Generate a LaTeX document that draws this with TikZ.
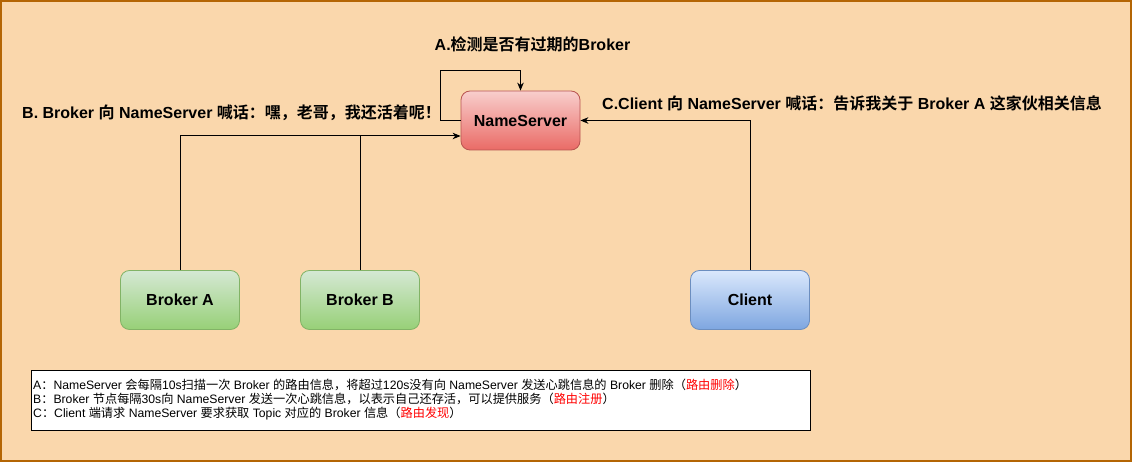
\documentclass[tikz,border=0pt]{standalone}
\usepackage{fontspec}
\setmainfont{Liberation Sans}
\newfontfamily\zhfont{Noto Sans CJK SC}[BoldFont={Noto Sans CJK SC Bold}]
\newcommand{\zh}[1]{{\zhfont #1}}
\usetikzlibrary{arrows.meta,positioning}

\definecolor{bgfill}{HTML}{FAD7AC}
\definecolor{bgline}{HTML}{B46504}
\definecolor{nstop}{HTML}{F8CECC}
\definecolor{nsbot}{HTML}{EA6B66}
\definecolor{nsline}{HTML}{B85450}
\definecolor{brtop}{HTML}{D5E8D4}
\definecolor{brbot}{HTML}{97D077}
\definecolor{brline}{HTML}{82B366}
\definecolor{cltop}{HTML}{DAE8FC}
\definecolor{clbot}{HTML}{7EA6E0}
\definecolor{clline}{HTML}{6C8EBF}

\begin{document}
\begin{tikzpicture}[x=1pt,y=-1pt,
    box/.style={rounded corners=9pt, line width=0.8pt, minimum width=119pt, minimum height=59pt,
        inner sep=0pt, font=\fontsize{16}{19}\selectfont\bfseries},
    nsbox/.style={box, draw=nsline, top color=nstop, bottom color=nsbot},
    brbox/.style={box, draw=brline, top color=brtop, bottom color=brbot},
    clbox/.style={box, draw=clline, top color=cltop, bottom color=clbot},
    lbl/.style={inner sep=0pt, font=\fontsize{16}{19}\selectfont\bfseries},
    conn/.style={line width=1pt, -{Stealth[length=8pt,width=6.5pt,inset=2.5pt]}}]

    %background with border
    \useasboundingbox (0,0) rectangle (1132,462);
    \draw[fill=bgfill, draw=bgline, line width=1.6pt] (0.8,0.8) rectangle (1131.2,461.2);

    %the boxes
    \node[nsbox] (ns) at (520.5,120.5) {NameServer};
    \node[brbox] (brokerA) at (180,300) {Broker A};
    \node[brbox] (brokerB) at (360,300) {Broker B};
    \node[clbox] (client) at (750,300) {Client};

    %connectors
    \coordinate (nsin) at ([yshift=-15.5pt]ns.west);
    \coordinate (looptop) at ([yshift=20pt]ns.north);
    \draw[conn] (brokerA.north) |- (nsin);
    \draw[line width=1pt] (brokerB.north) -- (brokerB.north |- nsin);
    \draw[conn] (client.north) |- (ns.east);
    \draw[conn] (ns.west) -- ++(-20,0) |- (looptop) -- (ns.north);

    %labels
    \node[lbl] (labA) at (532.5,44) {A.\zh{检测是否有过期的}Broker};
    \node[lbl, anchor=west] (labB) at (22,113) {B. Broker \zh{向} NameServer \zh{喊话：嘿，老哥，我还活着呢！}};
    \node[lbl, anchor=west] (labC) at (602,103) {C.Client \zh{向} NameServer \zh{喊话：告诉我关于} Broker A \zh{这家伙相关信息}};

    %legend
    \node[draw=black, fill=white, line width=1pt, anchor=north west, minimum width=779pt, minimum height=60pt,
        inner sep=0pt] (legendbox) at (31,370) {};
    \node[anchor=north west, align=left, inner sep=0pt, font=\fontsize{12.2}{13.8}\selectfont]
        (legendtxt) at ([xshift=2pt,yshift=-9pt]legendbox.north west)
        {A\zh{：}NameServer \zh{会每隔}10s\zh{扫描一次} Broker \zh{的路由信息，将超过}120s\zh{没有向} NameServer \zh{发送心跳信息的} Broker \zh{删除（\textcolor{red}{路由删除}）}\\
         B\zh{：}Broker \zh{节点每隔}30s\zh{向} NameServer \zh{发送一次心跳信息，以表示自己还存活，可以提供服务（\textcolor{red}{路由注册}）}\\
         C\zh{：}Client \zh{端请求} NameServer \zh{要求获取} Topic \zh{对应的} Broker \zh{信息（\textcolor{red}{路由发现}）}};
\end{tikzpicture}
\end{document}
